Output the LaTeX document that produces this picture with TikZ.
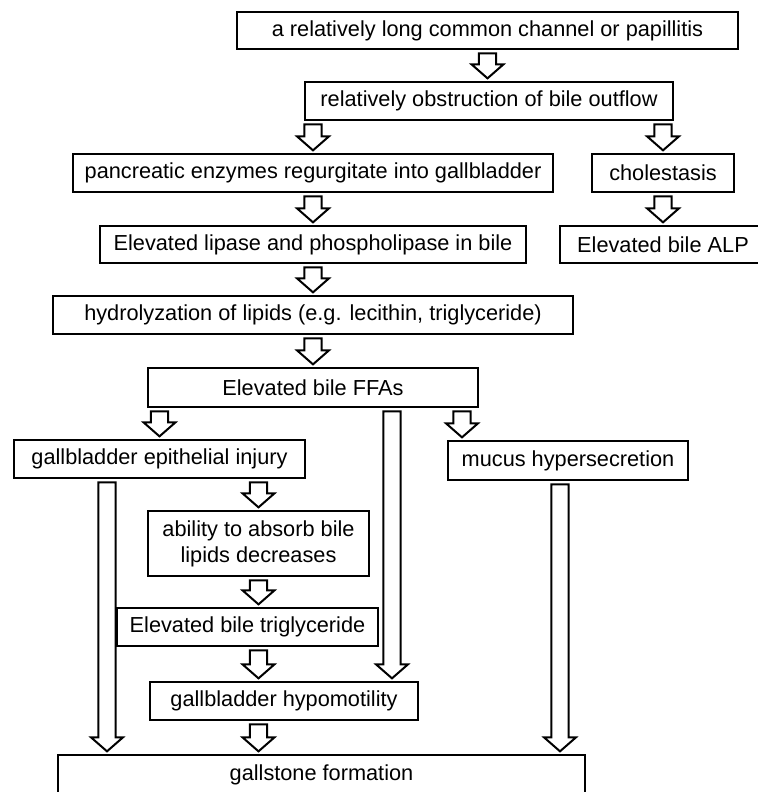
\documentclass[tikz,border=0pt]{standalone}
\usepackage{fontspec}
\setmainfont{Liberation Sans}
\usetikzlibrary{calc}
\begin{document}
\begin{tikzpicture}[x=0.75pt, y=-0.75pt,
  box/.style={draw, line width=1.5pt, rectangle, inner sep=0pt, align=center,
    font=\fontsize{16.3pt}{19.5pt}\selectfont},
  size/.style 2 args={minimum width=#1*0.75pt, minimum height=#2*0.75pt},
  fat/.style={line width=1.5pt, line join=miter,
    to path={let \p1=(\tikztostart), \p2=(\tikztotarget) in
      (\x1-6.5pt,\y1-2.5pt) -- (\x1-6.5pt,\y2+12.5pt) -- (\x1-12pt,\y2+12.5pt) -- (\x1,\y2+2pt)
      -- (\x1+12pt,\y2+12.5pt) -- (\x1+6.5pt,\y2+12.5pt) -- (\x1+6.5pt,\y1-2.5pt) -- cycle}}]
\useasboundingbox (0,0) rectangle (757,792);

\node[box, size={501}{37}] (cause) at (487.5,30.5) {a relatively long common channel or papillitis};
\node[box, size={368}{38}] (obstr) at (489,101) {relatively obstruction of bile outflow};
\node[box, size={480}{38}] (panc) at (313,173) {pancreatic enzymes regurgitate into gallbladder};
\node[box, size={142}{38}] (chol) at (663,173) {cholestasis};
\node[box, size={426}{37}] (lip) at (313,244.5) {Elevated lipase and phospholipase in bile};
\node[box, size={206}{37}] (alp) at (663,244.5) {Elevated bile ALP};
\node[box, size={520}{38}] (hydro) at (313,315) {hydrolyzation of lipids (e.g. lecithin, triglyceride)};
\node[box, size={330}{39}] (ffa) at (313,387.5) {Elevated bile FFAs};
\node[box, size={291}{38}] (injury) at (159.5,459) {gallbladder epithelial injury};
\node[box, size={240}{39}] (mucus) at (568,460.5) {mucus hypersecretion};
\node[box, size={221}{65}] (absorb) at (258.5,543.5) {ability to absorb bile\\lipids decreases};
\node[box, size={261}{38}] (trig) at (247.5,627) {Elevated bile triglyceride};
\node[box, size={268}{38}] (hypo) at (284,701) {gallbladder hypomotility};
\node[box, size={527}{40}] (stone) at (321.5,775) {gallstone formation};

\coordinate (mtop) at ($(mucus.north west)+(15,0)$);
\coordinate (htop) at ($(hypo.north east)+(-27,0)$);
\coordinate (sL) at (107,0);
\coordinate (sR) at (560,0);

\draw[fat] (cause.south) to (obstr.north);
\draw[fat] (obstr.south -| panc.north) to (panc.north);
\draw[fat] (obstr.south -| chol.north) to (chol.north);
\draw[fat] (panc.south) to (lip.north);
\draw[fat] (chol.south) to (alp.north);
\draw[fat] (lip.south) to (hydro.north);
\draw[fat] (hydro.south) to (ffa.north);
\draw[fat] (ffa.south -| injury.north) to (injury.north);
\draw[fat] (ffa.south -| mtop) to (mtop);
\draw[fat] (ffa.south -| htop) to (htop);
\draw[fat] (injury.south -| absorb.north) to (absorb.north);
\draw[fat] (absorb.south) to (absorb.south |- trig.north);
\draw[fat] (trig.south -| absorb.south) to (absorb.south |- hypo.north);
\draw[fat] (hypo.south -| absorb.south) to (absorb.south |- stone.north);
\draw[fat] (injury.south -| sL) to (stone.north -| sL);
\draw[fat] (mucus.south -| sR) to (stone.north -| sR);

\end{tikzpicture}
\end{document}
